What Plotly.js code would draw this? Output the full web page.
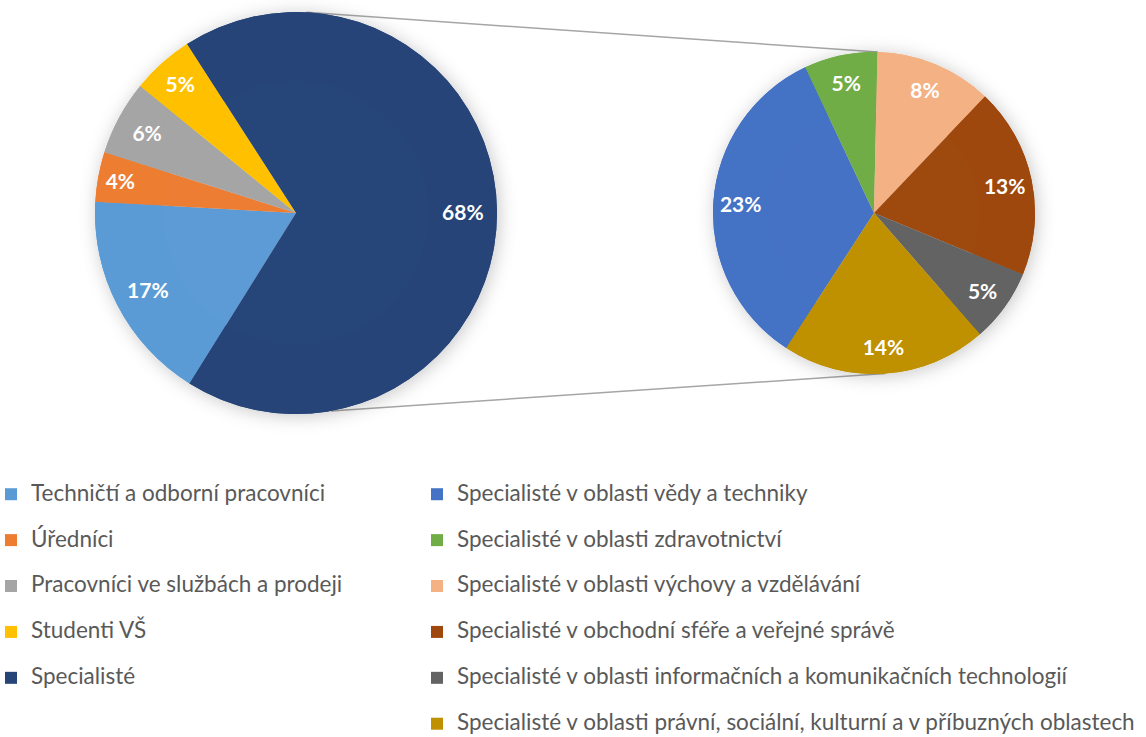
<!DOCTYPE html>
<html>
<head>
<meta charset="utf-8">
<script src="https://cdn.plot.ly/plotly-3.0.1.min.js"></script>
<style>
  html, body { margin: 0; padding: 0; background: #ffffff; }
  #chart { width: 1146px; height: 737px; }
</style>
</head>
<body>
<div id="chart"></div>
<script>
// ---- data ----
const mainLabels = [
  "Techničtí a odborní pracovníci",
  "Úředníci",
  "Pracovníci ve službách a prodeji",
  "Studenti VŠ",
  "Specialisté"
];
const mainValues = [17, 4, 6, 5, 68];
const mainColors = ["#5B9BD5", "#ED7D31", "#A5A5A5", "#FFC000", "#264478"];

const subLabels = [
  "Specialisté v oblasti vědy a techniky",
  "Specialisté v oblasti zdravotnictví",
  "Specialisté v oblasti výchovy a vzdělávání",
  "Specialisté v obchodní sféře a veřejné správě",
  "Specialisté v oblasti informačních a komunikačních technologií",
  "Specialisté v oblasti právní, sociální, kulturní a v příbuzných oblastech"
];
const subValues = [23, 5, 8, 13, 5, 14];
const subColors = ["#4472C4", "#70AD47", "#F4B183", "#9E480E", "#636363", "#BF9000"];

// ---- layout geometry (pixels) ----
const W = 1146, H = 737;
const leftPie = { cx: 296, cy: 213, r: 201, rotation: 212 };
const rightPie = { cx: 874, cy: 213, r: 161, rotation: 213 };

function px2x(px) { return px / W; }
function px2y(py) { return 1 - py / H; }
function domainOf(p) {
  return { x: [px2x(p.cx - p.r), px2x(p.cx + p.r)], y: [px2y(p.cy + p.r), px2y(p.cy - p.r)] };
}
function pointAt(p, deg) {
  const a = deg * Math.PI / 180;
  return [px2x(p.cx + p.r * Math.sin(a)), px2y(p.cy - p.r * Math.cos(a))];
}

// legend labels: extra empty line gives Excel-like row spacing
const legendTextSize = 22.5;
function fmtLegend(l, i, arr) {
  const s = "<span style='font-size:" + legendTextSize + "px'>" + l + "</span>";
  return i < arr.length - 1 ? s + "<br> " : s;
}

const labelFont = { family: "Lato, 'Open Sans', sans-serif", size: 21, color: "#FFFFFF", weight: 700 };

function basePie(values, colors, geom) {
  return {
    type: "pie",
    values: values,
    labels: values.map((v, i) => "s" + i),
    marker: { colors: colors, line: { width: 0 } },
    sort: false,
    direction: "clockwise",
    rotation: geom.rotation,
    domain: domainOf(geom),
    textinfo: "none",
    hoverinfo: "skip",
    showlegend: false
  };
}
function labelPie(labels, values, colors, geom, legendId) {
  return {
    type: "pie",
    labels: labels.map(fmtLegend),
    values: values,
    marker: { colors: colors, line: { width: 0 } },
    sort: false,
    direction: "clockwise",
    rotation: geom.rotation,
    domain: domainOf(geom),
    hole: 0.66,
    texttemplate: "%{value}%",
    textposition: "inside",
    insidetextorientation: "horizontal",
    textfont: labelFont,
    hoverinfo: "label+value",
    legend: legendId
  };
}

const traces = [
  basePie(mainValues, mainColors, leftPie),
  basePie(subValues, subColors, rightPie),
  labelPie(mainLabels, mainValues, mainColors, leftPie, "legend"),
  labelPie(subLabels, subValues, subColors, rightPie, "legend2")
];

const topL = pointAt(leftPie, 3), topR = pointAt(rightPie, 1.4);
const botL = pointAt(leftPie, 170), botR = pointAt(rightPie, 176);

const legendFont = { family: "Lato, 'Open Sans', sans-serif", size: 16.5, color: "#595959" };

const layout = {
  width: W,
  height: H,
  margin: { l: 0, r: 0, t: 0, b: 0, autoexpand: false },
  paper_bgcolor: "#ffffff",
  showlegend: true,
  uniformtext: { mode: "show", minsize: 21 },
  legend: {
    x: px2x(-9), y: px2y(477), xanchor: "left", yanchor: "top",
    orientation: "v", valign: "top", maxheight: 700,
    font: legendFont, bgcolor: "rgba(0,0,0,0)", traceorder: "normal"
  },
  legend2: {
    x: px2x(417), y: px2y(477), xanchor: "left", yanchor: "top",
    orientation: "v", valign: "top", maxheight: 700,
    font: legendFont, bgcolor: "rgba(0,0,0,0)", traceorder: "normal"
  },
  shapes: [
    { type: "line", xref: "paper", yref: "paper", x0: topL[0], y0: topL[1], x1: topR[0], y1: topR[1],
      line: { color: "#A6A6A6", width: 1.5 }, layer: "below" },
    { type: "line", xref: "paper", yref: "paper", x0: botL[0], y0: botL[1], x1: botR[0], y1: botR[1],
      line: { color: "#A6A6A6", width: 1.5 }, layer: "below" }
  ]
};

Plotly.newPlot("chart", traces, layout, { displayModeBar: false, staticPlot: true }).then(function (gd) {
  // soft Excel-like glow shadow behind the pies
  const NS = "http://www.w3.org/2000/svg";
  const svg = gd.querySelector("svg.main-svg");
  let defs = svg.querySelector("defs");
  if (!defs) { defs = document.createElementNS(NS, "defs"); svg.insertBefore(defs, svg.firstChild); }
  const f = document.createElementNS(NS, "filter");
  f.setAttribute("id", "pieGlow");
  f.setAttribute("x", "-20%"); f.setAttribute("y", "-20%");
  f.setAttribute("width", "140%"); f.setAttribute("height", "140%");
  const ds = document.createElementNS(NS, "feDropShadow");
  ds.setAttribute("dx", "2"); ds.setAttribute("dy", "2");
  ds.setAttribute("stdDeviation", "9");
  ds.setAttribute("flood-color", "#000000");
  ds.setAttribute("flood-opacity", "0.22");
  f.appendChild(ds);
  defs.appendChild(f);
  const baseTraces = gd.querySelectorAll(".pielayer .trace");
  for (let i = 0; i < 2 && i < baseTraces.length; i++) {
    baseTraces[i].setAttribute("filter", "url(#pieGlow)");
  }
});
</script>
</body>
</html>
